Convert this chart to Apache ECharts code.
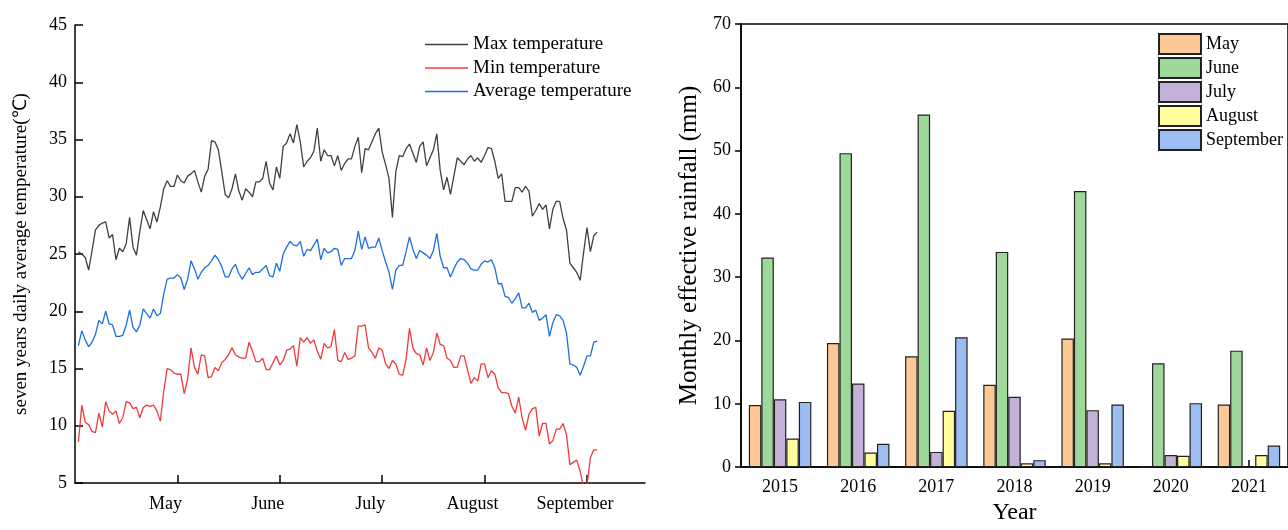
<!DOCTYPE html>
<html>
<head>
<meta charset="utf-8">
<script src="https://cdn.jsdelivr.net/npm/echarts@6/dist/echarts.min.js"></script>
<style>
  html, body { margin: 0; padding: 0; background: #fff; overflow: hidden; }
  #chart { width: 1288px; height: 530px; }
</style>
</head>
<body>
<div id="chart"></div>
<script>
// Daily temperature, seven-year average (°C), one value per day
const maxTemp = [
  25.2, 25.0, 24.7, 23.6, 25.3, 27.1, 27.5, 27.7, 27.8, 26.4,
  26.7, 24.5, 25.5, 25.2, 25.9, 28.2, 25.6, 24.9, 27.0, 28.8,
  28.0, 27.2, 28.7, 27.8, 29.1, 30.7, 31.4, 30.9, 30.9, 31.9,
  31.4, 31.2, 31.8, 32.0, 32.3, 31.3, 30.4, 31.8, 32.4, 34.9,
  34.8, 34.1, 32.2, 30.2, 29.9, 30.7, 32.0, 30.5, 29.7, 30.7,
  30.4, 30.0, 31.3, 31.3, 31.6, 33.1, 31.2, 30.6, 32.6, 31.6,
  34.4, 34.7, 35.5, 34.7, 36.3, 34.8, 32.6, 33.1, 33.4, 34.0,
  36.0, 33.1, 34.1, 33.6, 33.6, 32.7, 33.6, 32.3, 32.9, 33.3,
  33.3, 34.4, 35.2, 32.1, 34.2, 34.1, 34.8, 35.5, 36.0, 33.9,
  32.8, 31.6, 28.2, 32.2, 33.6, 33.5, 34.2, 34.6, 33.8, 33.0,
  34.4, 34.8, 32.7, 33.4, 34.1, 35.5, 32.3, 30.6, 31.7, 30.2,
  31.8, 33.4, 33.1, 32.8, 33.3, 33.6, 33.1, 33.4, 33.0, 33.6,
  34.3, 34.2, 33.1, 31.6, 32.0, 29.6, 29.6, 29.6, 30.8, 30.8,
  30.4, 30.9, 30.5, 28.3, 28.8, 29.4, 28.9, 29.3, 27.2, 28.9,
  29.6, 29.6, 28.1, 27.1, 24.2, 23.8, 23.4, 22.7, 25.1, 27.3,
  25.2, 26.6, 26.9
];
const minTemp = [
  8.6, 11.8, 10.3, 10.1, 9.5, 9.4, 11.1, 9.9, 12.1, 11.3,
  11.0, 11.3, 10.2, 10.7, 12.1, 12.0, 11.5, 11.6, 10.7, 11.6,
  11.8, 11.7, 11.8, 11.3, 10.4, 13.0, 15.0, 14.9, 14.6, 14.5,
  14.5, 12.8, 14.1, 16.8, 15.1, 14.5, 16.2, 16.1, 14.2, 14.3,
  15.1, 14.8, 15.5, 15.8, 16.2, 16.8, 16.2, 16.0, 15.9, 15.9,
  17.3, 16.5, 15.6, 15.6, 15.9, 14.9, 14.9, 15.5, 16.1, 15.3,
  15.7, 16.6, 16.7, 17.0, 15.2, 17.7, 17.3, 17.7, 17.2, 17.5,
  16.5, 15.8, 17.2, 16.8, 16.9, 18.4, 15.7, 15.6, 16.4, 15.8,
  15.9, 16.1, 18.7, 18.7, 18.8, 16.8, 16.4, 15.9, 16.8, 16.6,
  15.4, 15.0, 15.7, 15.4, 14.5, 14.4, 15.8, 18.5, 16.8, 16.3,
  16.2, 15.3, 16.8, 15.7, 16.4, 18.1, 17.1, 17.0, 15.9, 15.7,
  15.1, 15.1, 16.1, 16.1, 14.9, 13.7, 14.2, 13.9, 15.4, 15.4,
  14.2, 14.8, 14.5, 13.3, 12.9, 12.9, 12.8, 11.7, 11.1, 12.5,
  10.7, 9.6, 11.0, 11.5, 11.6, 9.1, 10.2, 10.2, 8.4, 8.7,
  9.7, 9.7, 10.2, 9.2, 6.6, 6.8, 7.0, 6.0, 4.7, 4.8,
  7.2, 7.9, 7.9
];
const avgTemp = [
  17.0, 18.3, 17.5, 16.9, 17.3, 18.0, 19.2, 18.9, 20.0, 18.9,
  18.8, 17.8, 17.8, 17.9, 18.8, 20.1, 18.6, 18.2, 18.8, 20.2,
  19.8, 19.4, 20.2, 19.6, 19.8, 21.5, 22.8, 22.9, 22.9, 23.2,
  22.9, 21.9, 22.8, 24.4, 23.7, 22.8, 23.4, 23.8, 24.0, 24.4,
  24.9, 24.5, 23.9, 23.0, 23.0, 23.7, 24.1, 23.3, 22.8, 23.3,
  23.8, 23.2, 23.4, 23.4, 23.7, 24.0, 23.1, 23.0, 24.2, 23.5,
  25.0, 25.6, 26.1, 25.8, 25.7, 26.1, 24.8, 25.4, 25.3, 25.8,
  26.3, 24.5, 25.5, 25.1, 25.2, 25.5, 25.4, 24.0, 24.6, 24.6,
  24.6, 25.3, 27.0, 25.4, 26.5, 25.5, 25.6, 25.6, 26.4, 25.3,
  24.3, 23.4, 21.9, 23.6, 24.0, 24.0, 25.2, 26.5, 25.4, 24.6,
  25.3, 25.1, 24.9, 24.6, 25.3, 26.8, 24.8, 23.8, 23.8, 23.0,
  23.7, 24.3, 24.6, 24.5, 24.2, 23.7, 23.6, 23.6, 24.1, 24.4,
  24.3, 24.5, 23.8, 22.4, 22.4, 21.3, 21.2, 20.7, 21.1, 21.6,
  20.3, 20.3, 20.7, 19.9, 20.1, 19.2, 19.4, 19.7, 17.8, 19.0,
  19.7, 19.6, 19.2, 18.1, 15.4, 15.3, 15.1, 14.4, 15.2, 16.1,
  16.1, 17.3, 17.4
];
const monthTicks = [30, 60, 90, 120, 150];
const monthLabels = ['May', 'June', 'July', 'August', 'September'];

// Monthly effective rainfall (mm) per year
const years = ['2015', '2016', '2017', '2018', '2019', '2020', '2021'];
const rainMay = [9.8, 19.6, 17.5, 13.0, 20.3, 0, 9.9];
const rainJune = [33.1, 49.6, 55.7, 34.0, 43.6, 16.4, 18.4];
const rainJuly = [10.7, 13.2, 2.4, 11.1, 9.0, 1.9, 0];
const rainAugust = [4.5, 2.3, 8.9, 0.6, 0.6, 1.8, 1.9];
const rainSeptember = [10.3, 3.7, 20.5, 1.1, 9.9, 10.1, 3.4];

const FONT = 'Liberation Serif';
const toPoints = arr => arr.map((v, i) => [i + 1, v]);
// plain stroke-like legend key for the temperature lines
const LINE_KEY = 'path://M0,0H43V1.3H0Z';

const lineSeries = (name, data, color) => ({
  name, type: 'line', xAxisIndex: 0, yAxisIndex: 0,
  data: toPoints(data), symbol: 'none', smooth: false,
  lineStyle: { color, width: 1.3 }, itemStyle: { color }
});
const barSeries = (name, data, color) => ({
  name, type: 'bar', xAxisIndex: 1, yAxisIndex: 1,
  data, barWidth: 12.5, barGap: '0%',
  itemStyle: { color, borderColor: '#222', borderWidth: 1.2 }
});

const chart = echarts.init(document.getElementById('chart'), null, { renderer: 'canvas' });
chart.setOption({
  animation: false,
  backgroundColor: '#fff',
  textStyle: { fontFamily: FONT, color: '#000' },
  grid: [
    { left: 75, top: 25, width: 570, height: 458 },
    { left: 741, top: 24, width: 554, height: 451.5, show: true,
      borderColor: '#000', borderWidth: 1.5, backgroundColor: 'transparent' }
  ],
  legend: [
    {
      orient: 'vertical', left: 420, top: 30, itemWidth: 43, itemHeight: 14, itemGap: 4.5,
      icon: LINE_KEY,
      data: ['Max temperature', 'Min temperature', 'Average temperature'],
      textStyle: { fontFamily: FONT, fontSize: 19, color: '#000' }
    },
    {
      orient: 'vertical', left: 1153, top: 28, itemWidth: 42, itemHeight: 20, itemGap: 2,
      icon: 'rect',
      data: ['May', 'June', 'July', 'August', 'September'],
      textStyle: { fontFamily: FONT, fontSize: 18, color: '#000' }
    }
  ],
  xAxis: [
    {
      type: 'value', gridIndex: 0, min: 0, max: 167,
      axisLine: { show: true, lineStyle: { color: '#000', width: 1.5 } },
      axisTick: { show: true, inside: true, length: 8, customValues: monthTicks,
        lineStyle: { color: '#000', width: 1.5 } },
      axisLabel: {
        customValues: monthTicks, fontFamily: FONT, fontSize: 18, color: '#000', margin: 12,
        padding: [0, 24, 0, 0],
        formatter: v => monthLabels[monthTicks.indexOf(v)] || ''
      },
      splitLine: { show: false }
    },
    {
      type: 'category', gridIndex: 1, data: years,
      name: 'Year', nameLocation: 'middle', nameGap: 32,
      nameTextStyle: { fontFamily: FONT, fontSize: 24, color: '#000' },
      axisLine: { lineStyle: { color: '#000', width: 1.5 } },
      axisTick: { show: true, inside: true, length: 7, alignWithLabel: true,
        lineStyle: { color: '#000', width: 1.5 } },
      axisLabel: { fontFamily: FONT, fontSize: 18, color: '#000', margin: 11 },
      splitLine: { show: false }
    }
  ],
  yAxis: [
    {
      type: 'value', gridIndex: 0, min: 5, max: 45, interval: 5,
      name: 'seven years daily average temperature(℃)', nameLocation: 'middle', nameGap: 44,
      nameTextStyle: { fontFamily: FONT, fontSize: 19, color: '#000' },
      axisLine: { show: true, lineStyle: { color: '#000', width: 1.5 } },
      axisTick: { show: true, inside: true, length: 8, lineStyle: { color: '#000', width: 1.5 } },
      axisLabel: { fontFamily: FONT, fontSize: 18, color: '#000', margin: 8 },
      splitLine: { show: false }
    },
    {
      type: 'value', gridIndex: 1, min: 0, max: 70, interval: 10,
      name: 'Monthly effective rainfall (mm)', nameLocation: 'middle', nameGap: 39,
      nameTextStyle: { fontFamily: FONT, fontSize: 25, color: '#000' },
      axisLine: { show: true, lineStyle: { color: '#000', width: 1.5 } },
      axisTick: { show: true, inside: false, length: 6, lineStyle: { color: '#000', width: 1.5 } },
      axisLabel: { fontFamily: FONT, fontSize: 18, color: '#000', margin: 10 },
      splitLine: { show: false }
    }
  ],
  series: [
    lineSeries('Max temperature', maxTemp, '#404040'),
    lineSeries('Min temperature', minTemp, '#f03a3a'),
    lineSeries('Average temperature', avgTemp, '#1c6fe0'),
    barSeries('May', rainMay, '#fcc896'),
    barSeries('June', rainJune, '#9ed89a'),
    barSeries('July', rainJuly, '#c3b1d8'),
    barSeries('August', rainAugust, '#fffd9c'),
    barSeries('September', rainSeptember, '#9dbcf2')
  ]
});
</script>
</body>
</html>
